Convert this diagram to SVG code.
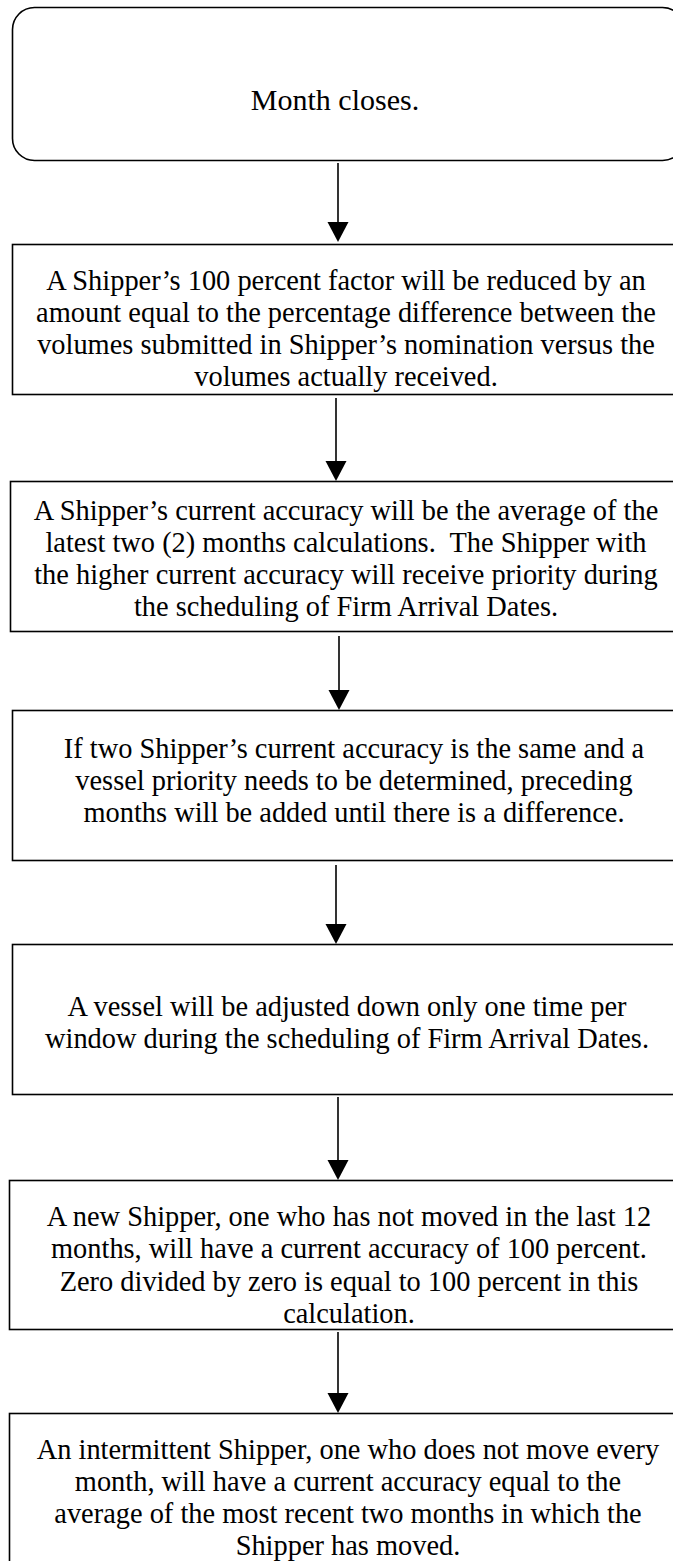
<svg xmlns="http://www.w3.org/2000/svg" width="673" height="1561" viewBox="0 0 673 1561">
  <style>
    .box { fill: #ffffff; stroke: #000000; stroke-width: 1.6; }
    .lbl { font-family: "Liberation Serif", "Times New Roman", serif; font-size: 28.4px; fill: #000000; text-anchor: middle; }
    .title { font-size: 30px; }
    .flow { stroke: #000000; stroke-width: 1.6; fill: none; }
    .head { fill: #000000; stroke: none; }
  </style>
  <rect x="0" y="0" width="673" height="1561" fill="#ffffff"/>

  <g id="connectors">
    <line class="flow" x1="338" y1="163" x2="338" y2="224"/>
    <polygon class="head" points="327.5,222 348.5,222 338,242"/>
    <line class="flow" x1="336" y1="398" x2="336" y2="463"/>
    <polygon class="head" points="325.5,461 346.5,461 336,481"/>
    <line class="flow" x1="339" y1="636" x2="339" y2="692"/>
    <polygon class="head" points="328.5,690 349.5,690 339,710"/>
    <line class="flow" x1="336" y1="865" x2="336" y2="926"/>
    <polygon class="head" points="325.5,924 346.5,924 336,944"/>
    <line class="flow" x1="338" y1="1097" x2="338" y2="1162"/>
    <polygon class="head" points="327.5,1160 348.5,1160 338,1180"/>
    <line class="flow" x1="338" y1="1332" x2="338" y2="1395"/>
    <polygon class="head" points="327.5,1393 348.5,1393 338,1413"/>
  </g>

  <g id="month-closes">
    <rect class="box" x="12.5" y="7.5" width="672" height="153" rx="22" ry="22"/>
    <text class="lbl title" x="335" y="110">Month closes.</text>
  </g>

  <g id="factor-reduction">
    <rect class="box" x="12.5" y="244.5" width="680" height="150"/>
    <text class="lbl" x="346" y="290">A Shipper’s 100 percent factor will be reduced by an</text>
    <text class="lbl" x="346" y="322">amount equal to the percentage difference between the</text>
    <text class="lbl" x="346" y="354">volumes submitted in Shipper’s nomination versus the</text>
    <text class="lbl" x="346" y="386">volumes actually received.</text>
  </g>

  <g id="current-accuracy">
    <rect class="box" x="10.5" y="481.5" width="680" height="150"/>
    <text class="lbl" x="346" y="520">A Shipper’s current accuracy will be the average of the</text>
    <text class="lbl" x="346" y="552" xml:space="preserve">latest two (2) months calculations.  The Shipper with</text>
    <text class="lbl" x="346" y="584">the higher current accuracy will receive priority during</text>
    <text class="lbl" x="346" y="616">the scheduling of Firm Arrival Dates.</text>
  </g>

  <g id="tie-break">
    <rect class="box" x="12.5" y="710.5" width="690" height="150"/>
    <text class="lbl" x="354" y="758">If two Shipper’s current accuracy is the same and a</text>
    <text class="lbl" x="354" y="790">vessel priority needs to be determined, preceding</text>
    <text class="lbl" x="354" y="822">months will be added until there is a difference.</text>
  </g>

  <g id="adjust-once">
    <rect class="box" x="12.5" y="944.5" width="680" height="150"/>
    <text class="lbl" x="347" y="1016">A vessel will be adjusted down only one time per</text>
    <text class="lbl" x="347" y="1048">window during the scheduling of Firm Arrival Dates.</text>
  </g>

  <g id="new-shipper">
    <rect class="box" x="9.5" y="1180.5" width="690" height="149"/>
    <text class="lbl" x="349" y="1226">A new Shipper, one who has not moved in the last 12</text>
    <text class="lbl" x="349" y="1258">months, will have a current accuracy of 100 percent.</text>
    <text class="lbl" x="349" y="1291">Zero divided by zero is equal to 100 percent in this</text>
    <text class="lbl" x="349" y="1323">calculation.</text>
  </g>

  <g id="intermittent-shipper">
    <rect class="box" x="9.5" y="1413.5" width="690" height="170"/>
    <text class="lbl" x="348" y="1459">An intermittent Shipper, one who does not move every</text>
    <text class="lbl" x="348" y="1491">month, will have a current accuracy equal to the</text>
    <text class="lbl" x="348" y="1523">average of the most recent two months in which the</text>
    <text class="lbl" x="348" y="1555">Shipper has moved.</text>
  </g>
</svg>
